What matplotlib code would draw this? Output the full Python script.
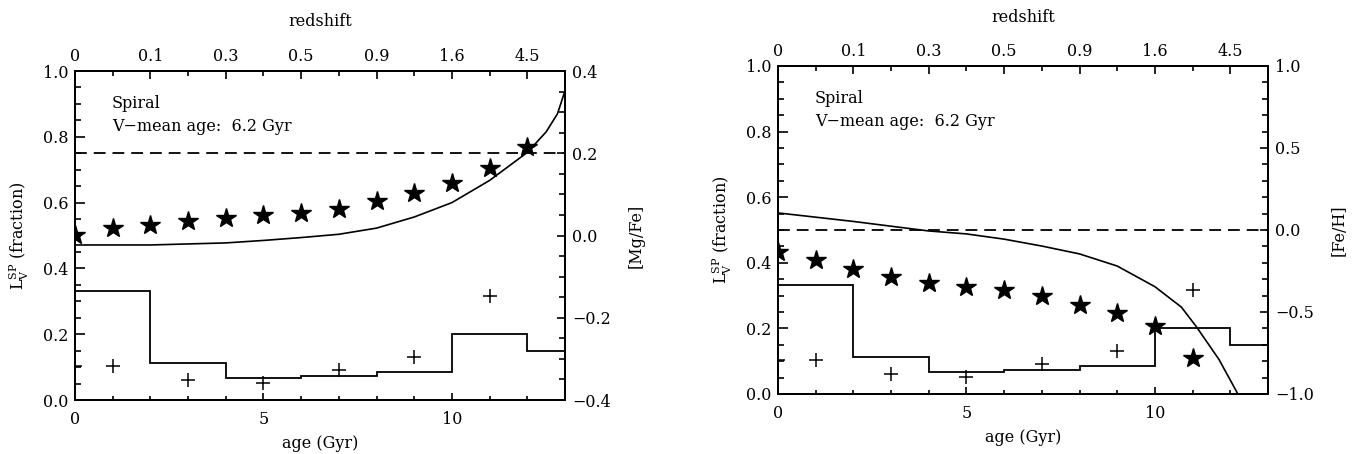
import matplotlib
matplotlib.use('Agg')
import matplotlib.pyplot as plt
from matplotlib.ticker import MultipleLocator, FixedLocator

plt.rcParams['font.family'] = 'DejaVu Serif'
plt.rcParams['mathtext.fontset'] = 'dejavuserif'
plt.rcParams['font.size'] = 11.5
plt.rcParams['lines.scale_dashes'] = False

# luminosity fraction per age bin (same in both panels)
bin_edges = [0, 2, 4, 6, 8, 10, 12, 13]
lum_frac = [0.331, 0.112, 0.067, 0.073, 0.086, 0.200, 0.150]

# crosses
cross_age = [0, 1, 3, 5, 7, 9, 11]
cross_val = [0.104, 0.104, 0.061, 0.052, 0.091, 0.132, 0.317]

# left panel: stars and [Mg/Fe] curve
star_age_l = [0, 1, 2, 3, 4, 5, 6, 7, 8, 9, 10, 11, 12]
star_val_l = [0.502, 0.523, 0.532, 0.544, 0.553, 0.562, 0.568, 0.581, 0.605, 0.629, 0.660, 0.705, 0.769]
mgfe_age = [0, 2, 4, 5, 6, 7, 8, 9, 10, 11, 12, 12.5, 12.8, 13.0]
mgfe_val = [-0.023, -0.023, -0.018, -0.012, -0.005, 0.003, 0.018, 0.045, 0.080, 0.134, 0.202, 0.252, 0.296, 0.352]

# right panel: stars and [Fe/H] curve
star_age_r = [0, 1, 2, 3, 4, 5, 6, 7, 8, 9, 10, 11]
star_val_r = [0.432, 0.408, 0.381, 0.358, 0.339, 0.327, 0.317, 0.299, 0.271, 0.246, 0.207, 0.109]
feh_age = [0, 2, 4, 5, 6, 7, 8, 9, 10, 10.7, 11.1, 11.7, 12.2, 12.5]
feh_val = [0.104, 0.052, -0.006, -0.024, -0.056, -0.098, -0.146, -0.22, -0.346, -0.47, -0.59, -0.79, -1.0, -1.3]

# top axis
redshift_ages = [0, 2, 4, 6, 8, 10, 12]
redshift_labels = ['0', '0.1', '0.3', '0.5', '0.9', '1.6', '4.5']

fig = plt.figure(figsize=(13.53, 4.54), dpi=100)


def panel(rect, s_age, s_val, c_age, c_val, rlim, rmaj, rmin, rlabel, rdash, toppad):
    ax = fig.add_axes(rect)
    ax.stairs(lum_frac, bin_edges, baseline=None, color='k', lw=1.3)
    ax.plot(cross_age, cross_val, '+', color='k', ms=10, mew=1.1)
    ax.plot(s_age, s_val, '*', color='k', ms=15, zorder=5)
    ax.set_xlim(0, 13)
    ax.set_ylim(0, 1.0)
    ax.xaxis.set_major_locator(MultipleLocator(5))
    ax.xaxis.set_minor_locator(MultipleLocator(1))
    ax.yaxis.set_major_locator(MultipleLocator(0.2))
    ax.yaxis.set_minor_locator(MultipleLocator(0.05))
    ax.yaxis.set_major_formatter('{x:.1f}')
    ax.set_xlabel('age (Gyr)', labelpad=5)
    ax.set_ylabel(r'L$_{\rm V}^{\rm SP}$ (fraction)', labelpad=8)
    ax.tick_params(which='both', direction='in', width=1.2)
    ax.tick_params(axis='y', which='major', length=7, pad=5)
    ax.tick_params(axis='y', which='minor', length=4)
    ax.tick_params(axis='x', which='major', length=5, pad=8)
    ax.tick_params(axis='x', which='minor', length=3)
    ax.text(0.075, 0.90, 'Spiral', transform=ax.transAxes, va='center')
    ax.text(0.075, 0.83, 'V\u2212mean age:  6.2 Gyr', transform=ax.transAxes, va='center')

    axr = ax.twinx()
    axr.plot(c_age, c_val, color='k', lw=1.2)
    axr.axhline(rdash, color='k', lw=1.3, dashes=(8.5, 5))
    axr.set_ylim(rlim)
    axr.yaxis.set_major_locator(MultipleLocator(rmaj))
    axr.yaxis.set_minor_locator(MultipleLocator(rmin))
    axr.yaxis.set_major_formatter('{x:.1f}')
    axr.set_ylabel(rlabel, labelpad=12)
    axr.tick_params(which='both', direction='in', width=1.2, pad=5)
    axr.tick_params(which='major', length=6)
    axr.tick_params(which='minor', length=4)

    axt = ax.twiny()
    axt.set_xlim(0, 13)
    axt.xaxis.set_major_locator(FixedLocator(redshift_ages))
    axt.set_xticklabels(redshift_labels)
    axt.xaxis.set_minor_locator(MultipleLocator(1))
    axt.set_xlabel('redshift', labelpad=toppad)
    axt.tick_params(which='both', direction='in', width=1.2, pad=4)
    axt.tick_params(which='major', length=6)
    axt.tick_params(which='minor', length=3.5)

    for a in (ax, axr, axt):
        for sp in a.spines.values():
            sp.set_linewidth(1.4)


panel([0.0554, 0.1189, 0.3622, 0.7247], star_age_l, star_val_l, mgfe_age, mgfe_val,
      (-0.4, 0.4), 0.2, 0.05, '[Mg/Fe]', 0.2, 16.5)
panel([0.575, 0.1322, 0.3622, 0.7225], star_age_r, star_val_r, feh_age, feh_val,
      (-1.0, 1.0), 0.5, 0.1, '[Fe/H]', 0.0, 15.5)

fig.savefig('out.png', dpi=100)
